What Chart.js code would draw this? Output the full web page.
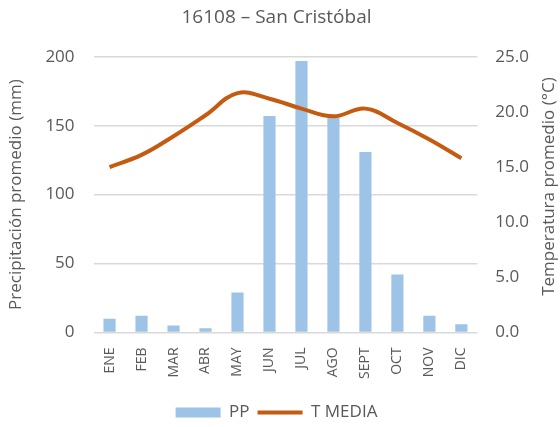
<!DOCTYPE html>
<html>
<head>
<meta charset="utf-8">
<script src="https://cdn.jsdelivr.net/npm/chart.js@4"></script>
<style>
  html, body { margin: 0; padding: 0; background: #fff; }
  #wrap { width: 560px; height: 427px; }
</style>
</head>
<body>
<div id="wrap"><canvas id="climaChart"></canvas></div>
<script>
const months = ['ENE', 'FEB', 'MAR', 'ABR', 'MAY', 'JUN', 'JUL', 'AGO', 'SEPT', 'OCT', 'NOV', 'DIC'];
const ppValues = [10, 12, 5, 3, 29, 157, 197, 156, 131, 42, 12, 6];
const tempValues = [15.0, 16.1, 17.8, 19.7, 21.7, 21.2, 20.3, 19.6, 20.3, 19.0, 17.5, 15.8];

const textColor = '#595959';
const fontFamily = '"Open Sans", Lato, sans-serif';

// right axis title reads bottom-to-top like the original, so draw it by hand
const rightTitle = {
    id: 'rightTitle',
    afterDraw(chart) {
        const ctx = chart.ctx;
        const area = chart.chartArea;
        ctx.save();
        ctx.translate(549, (area.top + area.bottom) / 2 - 8);
        ctx.rotate(-Math.PI / 2);
        ctx.font = '17px ' + fontFamily;
        ctx.fillStyle = textColor;
        ctx.textAlign = 'center';
        ctx.textBaseline = 'middle';
        ctx.fillText('Temperatura promedio (°C)', 0, 0);
        ctx.restore();
    }
};

document.addEventListener('DOMContentLoaded', () => {
    const ctx = document.getElementById('climaChart').getContext('2d');

    new Chart(ctx, {
        type: 'bar',
        data: {
            labels: months,
            datasets: [{
                type: 'line',
                label: 'T MEDIA',
                data: tempValues,
                yAxisID: 'yT',
                borderColor: '#C55A11',
                backgroundColor: '#C55A11',
                borderWidth: 4,
                pointRadius: 0,
                tension: 0.4,
                order: 0
            }, {
                label: 'PP',
                data: ppValues,
                yAxisID: 'yP',
                backgroundColor: '#9DC3E6',
                borderWidth: 0,
                barPercentage: 0.38,
                categoryPercentage: 1,
                order: 1
            }]
        },
        options: {
            responsive: true,
            maintainAspectRatio: false,
            animation: false,
            layout: { padding: { left: 6, right: 13, top: 4, bottom: -4 } },
            plugins: {
                title: {
                    display: true,
                    text: '16108 – San Cristóbal',
                    color: textColor,
                    font: { family: fontFamily, size: 19, weight: 'normal' },
                    padding: { top: 2, bottom: 28 }
                },
                legend: {
                    position: 'bottom',
                    reverse: true,
                    labels: {
                        color: textColor,
                        font: { family: fontFamily, size: 17 },
                        usePointStyle: true,
                        pointStyleWidth: 45,
                        boxHeight: 10,
                        padding: 8,
                        generateLabels(chart) {
                            const items = Chart.defaults.plugins.legend.labels.generateLabels(chart);
                            items.forEach(it => {
                                it.pointStyle = it.datasetIndex === 0 ? 'line' : 'rect';
                            });
                            return items;
                        }
                    }
                },
                tooltip: { enabled: false }
            },
            scales: {
                x: {
                    grid: { display: false },
                    border: { display: false },
                    afterFit: scale => { scale.height += 10; },
                    ticks: {
                        color: textColor,
                        font: { family: fontFamily, size: 14 },
                        padding: 7,
                        maxRotation: 90,
                        minRotation: 90
                    }
                },
                yP: {
                    position: 'left',
                    min: 0,
                    max: 200,
                    grid: { color: '#d9d9d9', lineWidth: 1.5, drawTicks: false },
                    border: { display: false },
                    ticks: {
                        stepSize: 50,
                        padding: 19,
                        color: textColor,
                        font: { family: fontFamily, size: 17 }
                    },
                    title: {
                        display: true,
                        text: 'Precipitación promedio (mm)',
                        color: textColor,
                        font: { family: fontFamily, size: 17 },
                        padding: 0
                    }
                },
                yT: {
                    position: 'right',
                    min: 0,
                    max: 25,
                    grid: { display: false, drawTicks: false },
                    border: { display: false },
                    ticks: {
                        stepSize: 5,
                        padding: 18,
                        color: textColor,
                        font: { family: fontFamily, size: 17 },
                        callback: v => v.toFixed(1)
                    }
                }
            }
        },
        plugins: [rightTitle]
    });
});
</script>
</body>
</html>
